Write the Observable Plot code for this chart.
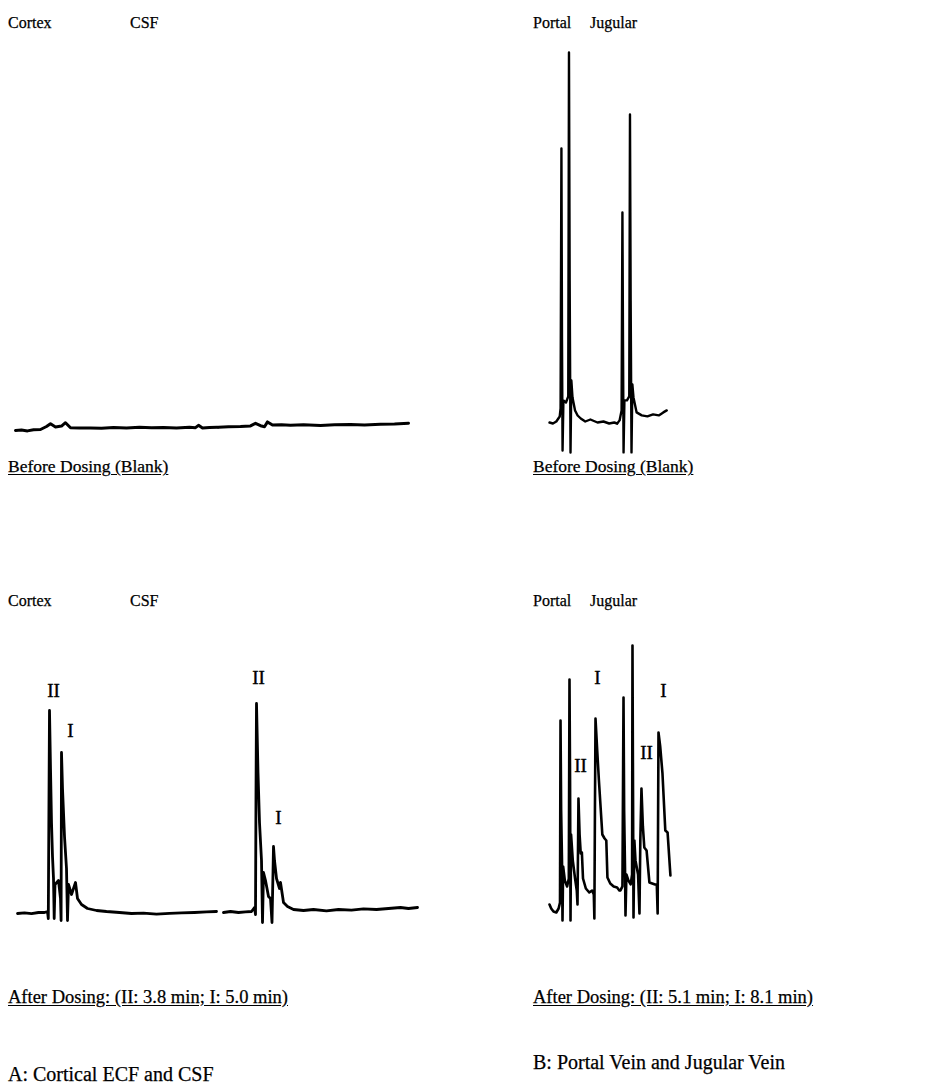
<!DOCTYPE html>
<html><head><meta charset="utf-8">
<script src="https://cdn.jsdelivr.net/npm/d3@7"></script>
<script src="https://cdn.jsdelivr.net/npm/@observablehq/plot@0.6"></script>
<style>
body{margin:0;background:#fff;}
#fig{position:relative;width:936px;height:1092px;font-family:"Liberation Serif","Times New Roman",serif;color:#000;overflow:hidden;}
.lbl{position:absolute;font-size:16px;line-height:1;white-space:nowrap;-webkit-text-stroke:0.25px #000;}
.u{text-decoration:underline;text-underline-offset:2px;}
.plot{position:absolute;}
.plot svg{overflow:visible;background:none;}
</style></head><body><div id="fig"></div>
<script>
// ---- data: chromatograms, [retention time (min), detector response (a.u.)] ----
const cortexBlank = [[0.4,-1],[1.0,-0.8],[1.6,-1.2],[2.2,-0.6],[2.9,-0.5],[3.5,1],[3.9,2.4],[4.4,0.8],[5.0,1.2],[5.4,2.9],[5.9,0.4],[6.8,0.2],[7.9,0.3],[9.0,0.1],[10.2,0.5],[11.5,0.3],[12.8,0.6],[14.0,0.4],[15.2,0.5],[16.5,0.3],[17.8,0.6],[18.4,0.4],[18.7,1.6],[19.1,0.2],[19.8,0.5],[20.6,0.6]];
const csfBlank = [[0,0.6],[1.0,0.9],[2.2,1],[3.2,1.3],[3.7,2.6],[4.2,1.4],[4.6,0.9],[4.9,3.3],[5.4,1.7],[6.3,1.9],[7.2,1.6],[8.5,1.9],[10.2,1.5],[11.6,1.9],[13.2,2],[14.6,1.8],[16.2,2.1],[17.6,2.2],[19.0,2.6]];
const portalBlank = [[0,-1],[0.6,-1.5],[1.2,-0.5],[1.8,2],[1.95,6],[2.1,136],[2.2,40],[2.3,-15],[2.45,10],[2.9,9],[3.3,12],[3.43,184],[3.55,70],[3.7,-16],[3.85,20],[4.05,11.5],[4.5,5],[4.95,2.5],[5.5,1],[6.3,-0.5],[7.2,0.5],[8.45,-1],[9.5,-0.5],[10.5,-1.5],[11.4,-1],[11.9,-1.5]];
const jugularBlank = [[1.2,-1.5],[1.6,0],[1.95,5],[2.1,104],[2.2,40],[2.3,-16],[2.45,10],[2.9,10],[3.3,12],[3.43,153],[3.55,60],[3.7,-16],[3.85,18],[4.05,11.5],[4.6,4],[5.5,2.5],[6.5,2],[7.5,3],[8.5,2.5],[9.3,4],[9.9,5]];
const cortexAfter = [[0.6,-0.5],[1.3,-0.2],[2.0,-0.6],[2.7,0],[3.3,0],[3.6,0.5],[3.68,-3],[3.74,50],[3.8,101],[3.9,72],[4.0,45],[4.1,28],[4.2,17],[4.27,-3],[4.35,14],[4.7,16],[4.9,7],[4.96,-4],[5.0,80],[5.1,62],[5.3,38],[5.5,22],[5.6,-4],[5.7,14],[6.0,9],[6.4,15],[6.6,7],[7.0,4],[7.6,2],[8.5,1],[9.5,0.5],[10.8,0],[12.0,-0.5],[13.2,-0.3],[14.5,-0.8],[15.8,-0.4],[17.0,-0.2],[18.3,0],[19.5,0.3],[20.5,0.5]];
const csfAfter = [[0.5,0],[1.2,0.5],[2.0,0],[2.7,0.3],[3.3,0.5],[3.6,2.5],[3.7,-1],[3.75,60],[3.8,104.5],[3.95,70],[4.1,45],[4.3,26],[4.4,-5],[4.5,20],[4.7,16],[5.0,8],[5.2,7],[5.35,-5],[5.45,20],[5.5,33],[5.6,26],[5.8,17],[6.1,12],[6.2,15],[6.5,5],[6.9,3],[7.5,1.5],[8.5,1],[9.5,1.5],[10.8,0.8],[12.0,1.5],[13.3,1.2],[14.5,1.8],[15.8,1.5],[17.0,2],[18.2,2.5],[19.0,2],[19.9,2.5]];
const portalAfter = [[0,-7],[0.3,-9],[0.7,-10.5],[1.2,-11],[1.6,-9],[1.85,-6],[1.94,85],[2.05,40],[2.2,15],[2.29,-15],[2.4,12],[2.7,5],[3.1,2],[3.4,6],[3.52,105.5],[3.62,55],[3.7,-15],[3.8,28],[4.1,15],[4.5,6],[4.8,0],[4.93,-7],[5.05,30],[5.1,46],[5.3,28],[5.5,18.5],[5.7,19],[5.9,6],[6.4,1],[7.0,-1],[7.5,0],[7.8,-2],[7.9,-14],[8.0,40],[8.1,86],[8.4,70],[8.7,55],[9.3,28],[9.7,26],[10.0,25],[10.2,6.5],[10.7,3.5],[11.3,2],[11.9,1.5],[12.3,0]];
const jugularAfter = [[1.4,0],[1.75,2],[1.94,96.5],[2.05,40],[2.2,12],[2.29,-12.5],[2.45,8],[2.8,5],[3.2,3],[3.45,8],[3.52,122.5],[3.6,60],[3.7,-13.5],[3.85,25],[4.05,15],[4.5,8],[4.75,-11.5],[4.9,25],[5.1,51],[5.35,32],[5.6,21.5],[6.0,20],[6.5,4],[7.0,3.5],[7.5,3],[7.8,3],[7.95,-11.5],[8.05,50],[8.1,79],[8.4,72],[8.8,58.5],[9.3,30],[9.7,29],[10.2,7.5]];

// peak annotations [time, response, label]
const cortexPeaks = [[4.2,111,"II"],[5.9,91,"I"]];
const csfPeaks = [[4.0,117.5,"II"],[6.0,47.5,"I"]];
const portalPeaks = [[5.46,62.5,"II"],[8.45,106.5,"I"]];
const jugularPeaks = [[5.99,69,"II"],[8.98,100,"I"]];

// text
const siteLabels = ["Cortex","CSF","Portal","Jugular"];
const blankTitle = "Before Dosing (Blank)";
const afterTitleA = "After Dosing: (II: 3.8 min; I: 5.0 min)";
const afterTitleB = "After Dosing: (II: 5.1 min; I: 8.1 min)";
const captionA = "A: Cortical ECF and CSF";
const captionB = "B: Portal Vein and Jugular Vein";

// ---- layout ----
const fig = document.getElementById("fig");
function label(text, x, baseline, cls, size) {
  const d = document.createElement("div");
  d.className = "lbl" + (cls ? " " + cls : "");
  const fs = size || 16;
  d.style.fontSize = fs + "px";
  d.style.left = x + "px";
  d.style.top = (baseline - fs * 0.89) + "px";
  d.textContent = text;
  fig.appendChild(d);
}
const K = 2; // px per response unit
function trace(data, peaks, o) {
  const pl = Plot.plot({
    width: o.w, height: K * (o.yd[1] - o.yd[0]), margin: 0,
    x: {domain: o.xd, axis: null},
    y: {domain: o.yd, axis: null},
    marks: [
      Plot.line(data, {x: d => d[0], y: d => d[1], stroke: "#000", strokeWidth: o.sw || 2.6, strokeLinejoin: "round", strokeLinecap: "round"}),
      peaks ? Plot.text(peaks, {x: d => d[0], y: d => d[1], text: d => d[2], fontSize: 19, fontFamily: "Liberation Serif", fill: "#000", stroke: "#000", strokeWidth: 0.4}) : null
    ]
  });
  const w = document.createElement("div");
  w.className = "plot";
  w.style.left = o.left + "px";
  w.style.top = (o.base - K * o.yd[1]) + "px";
  w.appendChild(pl);
  fig.appendChild(w);
}
const PX_MIN_A = 10, PX_MIN_B = 5.68;
// top row
trace(cortexBlank, null, {left: 11, base: 428, w: 21 * PX_MIN_A, xd: [0, 21], yd: [-6, 12], sw: 3});
trace(csfBlank, null, {left: 218, base: 428, w: 21 * PX_MIN_A, xd: [0, 21], yd: [-6, 12], sw: 3});
trace(portalBlank, null, {left: 549, base: 420, w: 12.5 * PX_MIN_B, xd: [0, 12.5], yd: [-18, 190], sw: 2.4});
trace(jugularBlank, null, {left: 610, base: 420, w: 10.5 * PX_MIN_B, xd: [0, 10.5], yd: [-18, 190], sw: 2.4});
// bottom row
trace(cortexAfter, cortexPeaks, {left: 11, base: 912, w: 21 * PX_MIN_A, xd: [0, 21], yd: [-10, 125], sw: 2.8});
trace(csfAfter, csfPeaks, {left: 218, base: 912, w: 21 * PX_MIN_A, xd: [0, 21], yd: [-10, 125], sw: 2.8});
trace(portalAfter, portalPeaks, {left: 549, base: 890, w: 12.5 * PX_MIN_B, xd: [0, 12.5], yd: [-18, 130], sw: 2.6});
trace(jugularAfter, jugularPeaks, {left: 612, base: 890, w: 10.5 * PX_MIN_B, xd: [0, 10.5], yd: [-18, 130], sw: 2.6});

// texts
label(siteLabels[0], 8, 29); label(siteLabels[1], 130, 29);
label(siteLabels[2], 533, 29); label(siteLabels[3], 590, 29);
label(blankTitle, 8, 474, "u", 17.5); label(blankTitle, 533, 474, "u", 17.5);
label(siteLabels[0], 8, 607); label(siteLabels[1], 130, 607);
label(siteLabels[2], 533, 607); label(siteLabels[3], 590, 607);
label(afterTitleA, 8, 1004, "u", 18.5); label(afterTitleB, 533, 1004, "u", 18.5);
label(captionA, 8, 1082, null, 20); label(captionB, 533, 1070, null, 20);
</script></body></html>
